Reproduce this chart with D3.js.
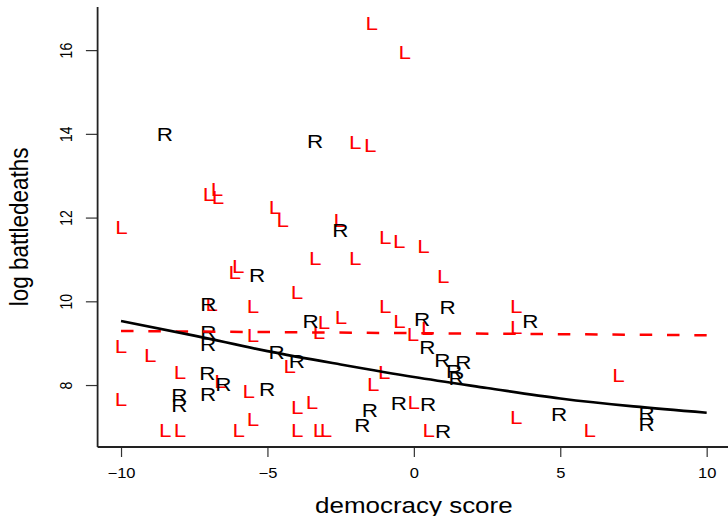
<!DOCTYPE html>
<html>
<head>
<meta charset="utf-8">
<script src="https://cdn.jsdelivr.net/npm/d3@7"></script>
<style>
  html, body { margin: 0; padding: 0; background: #fff; }
  svg { display: block; }
  text { font-family: "Liberation Sans", Arial, Helvetica, sans-serif; }
</style>
</head>
<body>
<script>
// ---- data ----
const xTicks = [-10, -5, 0, 5, 10];
const yTicks = [8, 10, 12, 14, 16];

// "R" observations (democracy score, log battledeaths)
const rX = [-8.50, -3.37, -2.51, -5.35, -7.02, 1.15, -3.53, 0.28, 3.98, -7.02,
            -7.03, -4.69, -4.00, 0.46, 0.97, 1.69, 1.37, 1.46, -7.05, -6.51,
            -5.01, -7.03, -8.01, -8.01, -1.50, -1.76, -0.51, 0.49, 1.00, 4.96,
            7.95, 7.95];
const rY = [13.99, 13.83, 11.69, 10.63, 9.93, 9.86, 9.53, 9.58, 9.53, 9.27,
            8.98, 8.78, 8.58, 8.90, 8.60, 8.54, 8.34, 8.16, 8.29, 8.02,
            7.90, 7.79, 7.76, 7.51, 7.40, 7.03, 7.56, 7.55, 6.90, 7.31,
            7.32, 7.07];

// "L" observations
const lX = [-1.44, -0.31, -2.00, -1.49, -7.00, -6.72, -6.69, -9.98, -4.74, -4.48,
            -2.53, -0.98, -0.50, 0.33, -3.37, -2.00, -6.12, -6.00, 1.00, -3.99,
            -6.90, -5.49, -0.98, 3.50, -3.07, -2.49, -0.49, -3.24, -5.49, -0.03,
            0.46, 3.50, -10.00, -9.00, -7.99, -6.60, -4.24, -1.01, -1.39, -5.64,
            -10.00, -3.98, -3.48, 0.00, -5.49, 3.50, 6.99, -8.49, -7.99, -5.98,
            -3.98, -3.24, -3.00, 0.51, 6.01];
const lY = [16.64, 15.96, 13.81, 13.72, 12.56, 12.68, 12.49, 11.78, 12.24, 11.93,
            11.94, 11.53, 11.44, 11.32, 11.03, 11.02, 10.70, 10.84, 10.59, 10.23,
            9.93, 9.89, 9.89, 9.89, 9.50, 9.62, 9.53, 9.27, 9.18, 9.21,
            9.35, 9.39, 8.94, 8.72, 8.31, 8.10, 8.44, 8.31, 8.02, 7.86,
            7.66, 7.47, 7.60, 7.60, 7.19, 7.24, 8.23, 6.92, 6.92, 6.92,
            6.92, 6.92, 6.92, 6.92, 6.92];

// fitted curve (solid black)
const fitX = [-10, -7.5, -5, -2.5, 0, 2.5, 5, 7.5, 10];
const fitY = [9.53, 9.18, 8.81, 8.49, 8.19, 7.93, 7.68, 7.49, 7.34];

// flat fit (dashed red)
const flatX = [-10, 10];
const flatY = [9.29, 9.19];

// ---- chart ----
const W = 728, H = 516;
const SX = 1.18; // horizontal text stretch
const svg = d3.select("body").append("svg").attr("width", W).attr("height", H);

const x = d3.scaleLinear().domain([-10.8, 10.8]).range([97.6, 730.1]);
const y = d3.scaleLinear().domain([6.52, 17.03]).range([447, 7]);

// axes
const xAxis = svg.append("g").attr("transform", `translate(0,${y(6.52)})`)
  .call(d3.axisBottom(x).tickValues(xTicks).tickSize(10).tickPadding(11)
        .tickFormat(d => d < 0 ? "\u2212" + Math.abs(d) : String(d)));
xAxis.select(".domain").remove();
xAxis.selectAll(".tick line").attr("stroke", "#333").attr("stroke-width", 1.2);
xAxis.selectAll(".tick text").attr("font-size", 14).attr("fill", "#000")
  .attr("font-family", "Liberation Sans, Arial, sans-serif")
  .attr("transform", `scale(${SX},1)`);

const yAxis = svg.append("g").attr("transform", `translate(${x(-10.8)},0)`)
  .call(d3.axisLeft(y).tickValues(yTicks).tickSize(11.7).tickFormat(d3.format("d")));
yAxis.select(".domain").remove();
yAxis.selectAll(".tick line").attr("stroke", "#333").attr("stroke-width", 1.2);
yAxis.selectAll(".tick text").remove();
yAxis.selectAll(".tick").append("text")
  .attr("transform", `translate(-26,0) scale(${SX},1) rotate(-90)`)
  .attr("text-anchor", "middle")
  .attr("font-size", 14).attr("fill", "#000")
  .text(d => d);

// box L lines
svg.append("line").attr("x1", x(-10.8)).attr("x2", x(-10.8))
  .attr("y1", y(17.03)).attr("y2", y(6.52))
  .attr("stroke", "#222").attr("stroke-width", 1.8);
svg.append("line").attr("x1", x(-10.8)).attr("x2", x(10.8))
  .attr("y1", y(6.52)).attr("y2", y(6.52))
  .attr("stroke", "#222").attr("stroke-width", 1.8);

// axis titles
svg.append("text")
  .attr("transform", `translate(${x(0)},512.5) scale(${SX},1)`)
  .attr("text-anchor", "middle").attr("font-size", 22).attr("fill", "#000")
  .text("democracy score");
svg.append("text")
  .attr("transform", `translate(28.3,${y(11.78)}) scale(${SX},1) rotate(-90)`)
  .attr("text-anchor", "middle").attr("font-size", 22.5).attr("fill", "#000")
  .text("log battledeaths");

// points as letters
const lData = lX.map((v, i) => ({ x: v, y: lY[i] }));
const rData = rX.map((v, i) => ({ x: v, y: rY[i] }));

svg.append("g").selectAll("text").data(lData).join("text")
  .attr("transform", d => `translate(${x(d.x)},${y(d.y)}) scale(${SX},1)`)
  .attr("dy", "0.36em")
  .attr("text-anchor", "middle").attr("font-size", 19).attr("fill", "#ff0000")
  .text("L");

svg.append("g").selectAll("text").data(rData).join("text")
  .attr("transform", d => `translate(${x(d.x)},${y(d.y)}) scale(${SX},1)`)
  .attr("dy", "0.36em")
  .attr("text-anchor", "middle").attr("font-size", 19).attr("fill", "#000")
  .text("R");

// lines
const fitData = fitX.map((v, i) => ({ x: v, y: fitY[i] }));
const flatData = flatX.map((v, i) => ({ x: v, y: flatY[i] }));
const line = d3.line().x(d => x(d.x)).y(d => y(d.y));

svg.append("path").datum(flatData)
  .attr("d", line)
  .attr("fill", "none").attr("stroke", "#ff0000").attr("stroke-width", 2.5)
  .attr("stroke-dasharray", "12.5,14.8");

svg.append("path").datum(fitData)
  .attr("d", line.curve(d3.curveMonotoneX))
  .attr("fill", "none").attr("stroke", "#000").attr("stroke-width", 2.6);
</script>
</body>
</html>
